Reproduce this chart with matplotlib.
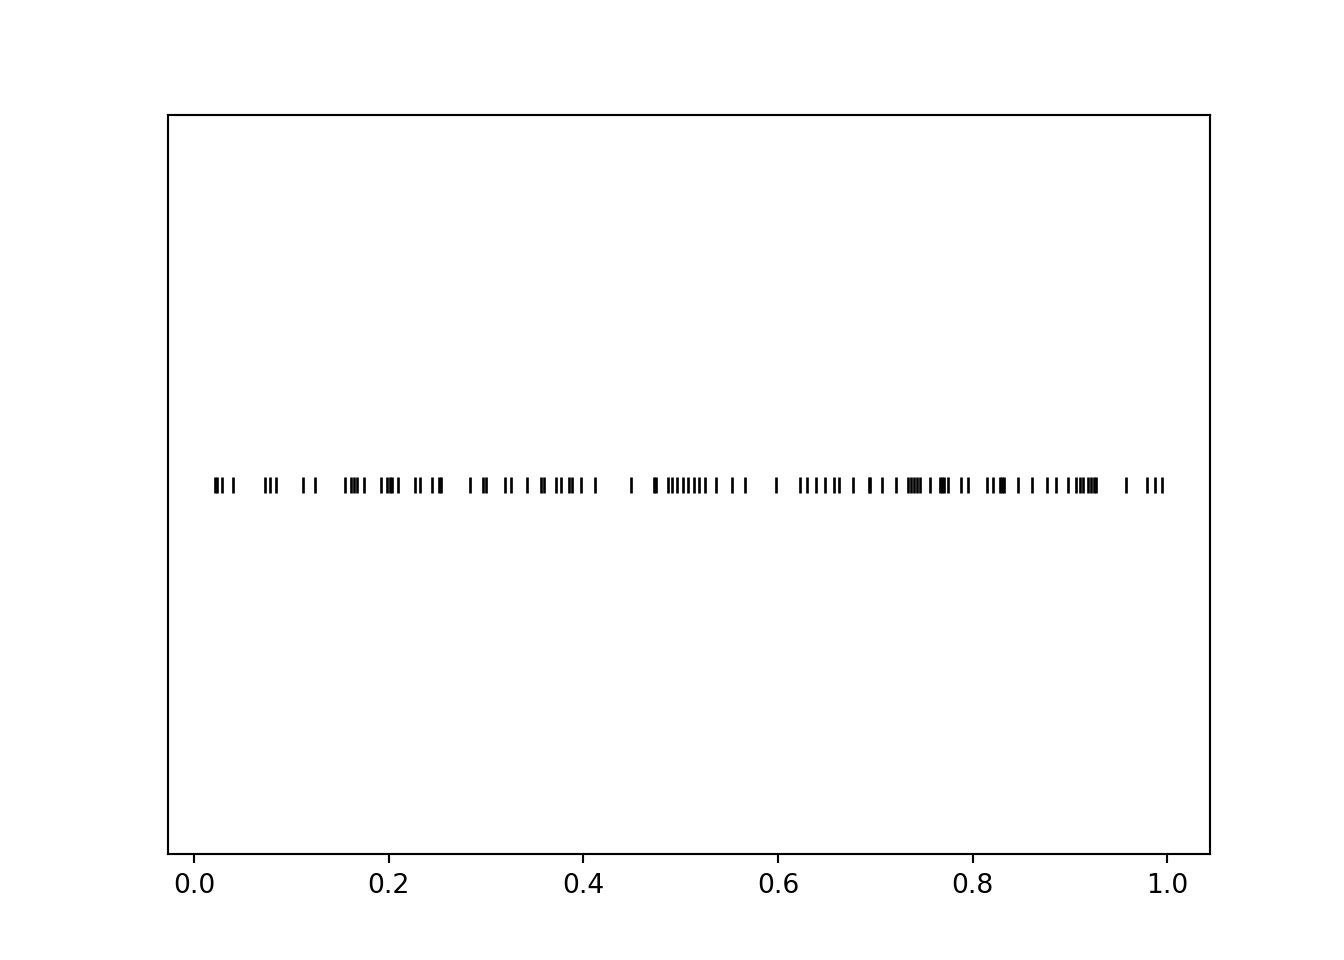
import numpy as np
import matplotlib
matplotlib.use("Agg")
import matplotlib.pyplot as plt

# Positions of the events
x = [0.0216, 0.0236, 0.0288, 0.0401, 0.0730, 0.0781, 0.0843, 0.1120, 0.1244,
     0.1552, 0.1614, 0.1644, 0.1675, 0.1747, 0.1922, 0.1984, 0.2014, 0.2035,
     0.2097, 0.2271, 0.2323, 0.2446, 0.2518, 0.2539, 0.2837, 0.2970, 0.3001,
     0.3196, 0.3258, 0.3422, 0.3566, 0.3597, 0.3720, 0.3772, 0.3854, 0.3885,
     0.3977, 0.4121, 0.4491, 0.4728, 0.4748, 0.4871, 0.4913, 0.4964, 0.5026,
     0.5077, 0.5139, 0.5190, 0.5252, 0.5365, 0.5529, 0.5663, 0.5982, 0.6228,
     0.6300, 0.6393, 0.6485, 0.6578, 0.6629, 0.6773, 0.6937, 0.6948, 0.7071,
     0.7215, 0.7338, 0.7369, 0.7400, 0.7431, 0.7461, 0.7564, 0.7667, 0.7688,
     0.7708, 0.7749, 0.7883, 0.7955, 0.8150, 0.8212, 0.8284, 0.8304, 0.8325,
     0.8469, 0.8613, 0.8767, 0.8859, 0.8983, 0.9065, 0.9106, 0.9137, 0.9188,
     0.9219, 0.9250, 0.9270, 0.9579, 0.9794, 0.9877, 0.9949]

fig, ax = plt.subplots(figsize=(7, 5), dpi=192)
ax.plot(x, np.zeros(len(x)), '|', color='k')
ax.set_yticks([])
fig.savefig("out.png")
